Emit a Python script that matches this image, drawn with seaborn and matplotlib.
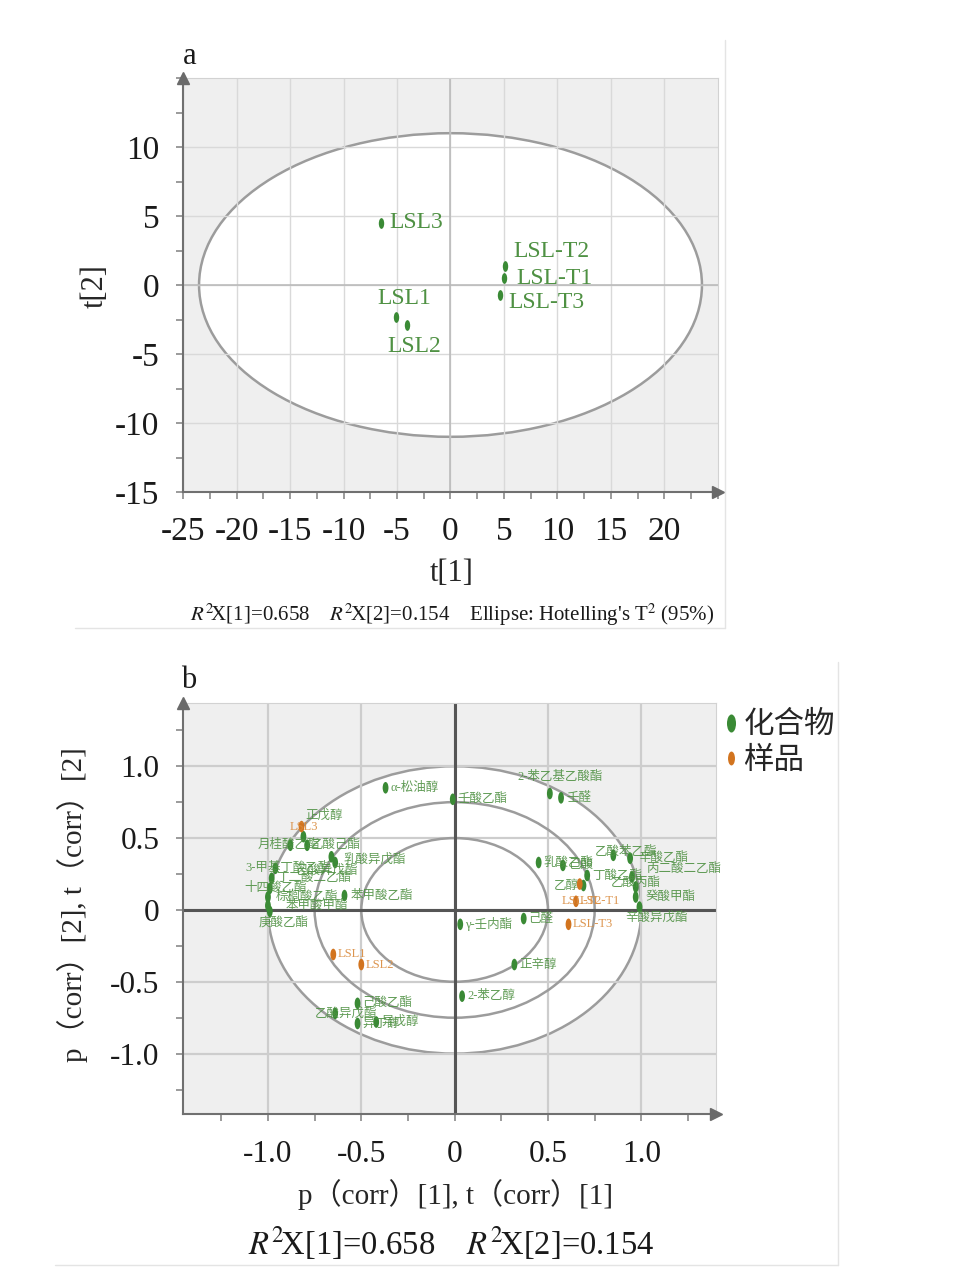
import numpy as np
import pandas as pd
import matplotlib
matplotlib.use("Agg")
import matplotlib.pyplot as plt
import seaborn as sns
from matplotlib.patches import Ellipse
from matplotlib.path import Path
from matplotlib.transforms import Affine2D
from matplotlib.lines import Line2D
from matplotlib.ticker import MultipleLocator

# ---- data: panel a (scores) ----
score_names = ["LSL1", "LSL2", "LSL3", "LSL-T1", "LSL-T2", "LSL-T3"]
score_t1 = [-5.1, -4.1, -6.5, 5.0, 5.1, 4.6]
score_t2 = [-2.3, -2.9, 4.5, 0.5, 1.4, -0.7]
hotelling_a = 23.5   # semi axes of the T2 ellipse
hotelling_b = 11.0
a_xticks = [-25, -20, -15, -10, -5, 0, 5, 10, 15, 20]
a_xlabels = ["-25", "-20", "-15", "-10", "-5", "0", "5", "10", "15", "20"]
a_yticks = [-15, -10, -5, 0, 5, 10]
a_ylabels = ["-15", "-10", "-5", "0", "5", "10"]

# ---- data: panel b (correlation loadings) ----
comp_names = ["α-松油醇", "壬酸乙酯", "2-苯乙基乙酸酯", "壬醛", "正戊醇",
              "月桂酸乙酯", "乙酸己酯", "3-甲基丁酸乙酯", "丁二酸二乙酯", "十四酸乙酯",
              "棕榈酸乙酯", "苯甲酸甲酯", "庚酸乙酯", "乳酸异戊酯", "己酸异戊酯",
              "苯甲酸乙酯", "乳酸乙酯", "己酸", "丁酸乙酯", "乙酸苯乙酯",
              "辛酸乙酯", "丙二酸二乙酯", "乙酸丙酯", "癸酸甲酯", "辛酸异戊酯",
              "乙醇", "γ-壬内酯", "己醛", "正辛醇", "2-苯乙醇",
              "己酸乙酯", "乙酸异戊酯", "异丁醇", "异戊醇"]
comp_p1 = [-0.37, -0.01, 0.51, 0.57, -0.81,
           -0.88, -0.79, -0.96, -0.98, -0.99,
           -1.00, -1.00, -0.99, -0.66, -0.64,
           -0.59, 0.45, 0.58, 0.71, 0.85,
           0.94, 0.95, 0.97, 0.97, 0.99,
           0.69, 0.03, 0.37, 0.32, 0.04,
           -0.52, -0.64, -0.52, -0.42]
comp_p2 = [0.85, 0.77, 0.81, 0.78, 0.51,
           0.45, 0.45, 0.29, 0.22, 0.15,
           0.09, 0.03, -0.01, 0.37, 0.33,
           0.10, 0.33, 0.31, 0.24, 0.38,
           0.36, 0.23, 0.16, 0.09, 0.02,
           0.17, -0.10, -0.06, -0.38, -0.60,
           -0.65, -0.72, -0.79, -0.78]
sample_names = ["LSL1", "LSL2", "LSL3", "LSL-T1", "LSL-T2", "LSL-T3"]
sample_p1 = [-0.65, -0.50, -0.82, 0.65, 0.67, 0.61]
sample_p2 = [-0.31, -0.38, 0.58, 0.06, 0.18, -0.10]
circle_radii = [1.0, 0.75, 0.5]
b_ticks = [-1.0, -0.5, 0, 0.5, 1.0]
b_ticklabels = ["-1.0", "-0.5", "0", "0.5", "1.0"]
legend_labels = ["化合物", "样品"]

# label offsets in pixels (placement only)
a_offsets = [(8, 18, "center"), (8, -21, "center"), (8, 0, "left"),
             (12, 0, "left"), (8, 14, "left"), (9, -8, "left")]
comp_offsets = [(5, 0), (5, 0), (-32, 17), (5, 0), (2, 21),
                (-33, 0), (4, 0), (-30, 0), (5, 0), (-25, 0),
                (8, 0), (18, 0), (-11, -11), (12, -3), (-40, -8),
                (6, 0), (5, 0), (5, 0), (5, 0), (-18, 3),
                (8, 0), (14, 8), (-25, 4), (10, 0), (-14, -11),
                (-30, 0), (5, 0), (5, 0), (5, 0), (5, 0),
                (5, 0), (-20, 0), (5, 0), (5, 0)]
sample_offsets = [(4, 0), (4, 0), (-12, 0), (4, 0), (-18, -17), (4, 0)]

GREEN = "#3a8a35"
GREEN_TXT = "#4f9143"
ORANGE = "#d2741f"
ORANGE_TXT = "#d98a3c"

sns.set_theme(style="white")
plt.rcParams['font.family'] = ['Liberation Serif', 'Noto Sans CJK SC', 'DejaVu Sans']
plt.rcParams['mathtext.fontset'] = 'stix'
plt.rcParams['axes.unicode_minus'] = False

# vertical elliptic marker like SIMCA
ell_marker = Path.unit_circle().transformed(Affine2D().scale(0.5, 1.0))

fig = plt.figure(figsize=(9.62, 12.73), dpi=100)
axa = fig.add_axes([183 / 962, 1 - 492 / 1273, 535 / 962, 414 / 1273])
axb = fig.add_axes([183 / 962, 1 - 1114 / 1273, 533 / 962, 411 / 1273])


def style_axes(ax, grid_color, grid_lw, tick_size, xpad, ypad):
    ax.set_facecolor("#efefef")
    for s in ["top", "right"]:
        ax.spines[s].set_color("#d2d2d2")
        ax.spines[s].set_linewidth(0.8)
    for s in ["left", "bottom"]:
        ax.spines[s].set_color("#707070")
        ax.spines[s].set_linewidth(1.5)
    ax.tick_params(which="both", direction="out", length=5, width=1.1,
                   color="#808080", left=True, bottom=True,
                   labelsize=tick_size, labelcolor="#1a1a1a")
    ax.tick_params(axis="x", pad=xpad)
    ax.tick_params(axis="y", pad=ypad)
    ax.grid(True, which="major", color=grid_color, lw=grid_lw, zorder=0.5)
    ax.set_axisbelow(True)
    ax.plot(0, 1.0, marker="^", ms=8, color="#6a6a6a", transform=ax.transAxes,
            clip_on=False, zorder=5)
    ax.plot(1.0, 0, marker=">", ms=8, color="#6a6a6a", transform=ax.transAxes,
            clip_on=False, zorder=5)


# ---------------- panel a ----------------
style_axes(axa, "#d9d9d9", 1.0, 24, 13, 12)
axa.set_xlim(-25, 25)
axa.set_ylim(-15, 15)
axa.set_xticks(a_xticks, a_xlabels)
axa.set_yticks(a_yticks, a_ylabels)
axa.xaxis.set_minor_locator(MultipleLocator(2.5))
axa.yaxis.set_minor_locator(MultipleLocator(2.5))
axa.add_patch(Ellipse((0, 0), 2 * hotelling_a, 2 * hotelling_b, facecolor="white",
                      edgecolor="#9c9c9c", lw=1.8, zorder=0.2))
axa.axhline(0, color="#b8b8b8", lw=1.1, zorder=1)
axa.axvline(0, color="#b8b8b8", lw=1.1, zorder=1)

df_a = pd.DataFrame({"t1": score_t1, "t2": score_t2, "name": score_names})
sns.scatterplot(data=df_a, x="t1", y="t2", color=GREEN, marker=ell_marker, s=60,
                linewidth=0, ax=axa, zorder=3, legend=False)
for (nm, x, y), (dx, dy, ha) in zip(df_a[["name", "t1", "t2"]].values, a_offsets):
    axa.annotate(nm, (x, y), xytext=(dx, dy), textcoords="offset pixels",
                 ha=ha, va="center", fontsize=17, color=GREEN_TXT, zorder=4)

axa.set_xlabel("t[1]", fontsize=22)
axa.set_ylabel("t[2]", fontsize=22)
axa.xaxis.set_label_coords(0.503, -0.196)
axa.xaxis.label.set_va("center")
axa.yaxis.set_label_coords(-0.164, 0.498)
axa.yaxis.label.set_va("center")

fig.text(452 / 962, 1 - 615 / 1273,
         r"$R^{2}\!$X[1]=0.658    $R^{2}\!$X[2]=0.154    Ellipse: Hotelling's T$^{2}$ (95%)",
         ha="center", va="center", fontsize=15, color="#1a1a1a")
fig.text(183 / 962, 1 - 57 / 1273, "a", fontsize=22, ha="left", va="center",
         color="#1a1a1a")

# ---------------- panel b ----------------
style_axes(axb, "#cdcdcd", 1.6, 22.5, 14, 12)
axb.set_xlim(-1.455, 1.40)
axb.set_ylim(-1.42, 1.44)
axb.set_xticks(b_ticks, b_ticklabels)
axb.set_yticks(b_ticks, b_ticklabels)
axb.xaxis.set_minor_locator(MultipleLocator(0.25))
axb.yaxis.set_minor_locator(MultipleLocator(0.25))
for i, r in enumerate(circle_radii):
    axb.add_patch(Ellipse((0, 0), 2 * r, 2 * r,
                          facecolor="white" if i == 0 else "none",
                          edgecolor="#9c9c9c", lw=1.8, zorder=0.2 if i == 0 else 1))
axb.axhline(0, color="#555555", lw=2.2, zorder=1.5)
axb.axvline(0, color="#555555", lw=2.2, zorder=1.5)

df_b = pd.concat([
    pd.DataFrame({"p1": comp_p1, "p2": comp_p2, "name": comp_names,
                  "type": legend_labels[0]}),
    pd.DataFrame({"p1": sample_p1, "p2": sample_p2, "name": sample_names,
                  "type": legend_labels[1]}),
], ignore_index=True)
sns.scatterplot(data=df_b, x="p1", y="p2", hue="type",
                palette={legend_labels[0]: GREEN, legend_labels[1]: ORANGE},
                marker=ell_marker, s=70, linewidth=0, ax=axb, zorder=3, legend=False)

offsets_b = comp_offsets + sample_offsets
for (nm, x, y, kind), (dx, dy) in zip(df_b[["name", "p1", "p2", "type"]].values, offsets_b):
    col = GREEN_TXT if kind == legend_labels[0] else ORANGE_TXT
    axb.annotate(nm, (x, y), xytext=(dx, dy), textcoords="offset pixels",
                 ha="left", va="center", fontsize=9, color=col, alpha=0.9, zorder=4)

axb.set_xlabel("p（corr）[1], t（corr）[1]", fontsize=21)
axb.set_ylabel("p（corr）[2], t（corr）[2]", fontsize=21)
axb.xaxis.set_label_coords(0.512, -0.197)
axb.xaxis.label.set_va("center")
axb.yaxis.set_label_coords(-0.208, 0.509)
axb.yaxis.label.set_va("center")

handles = [Line2D([], [], ls="none", marker=ell_marker, ms=13, color=GREEN, mew=0),
           Line2D([], [], ls="none", marker=ell_marker, ms=10, color=ORANGE, mew=0)]
fig.legend(handles, legend_labels, loc="upper left",
           bbox_to_anchor=(713 / 962, 1 - 697 / 1273), frameon=False,
           prop={"family": ["Noto Sans CJK SC"], "size": 22},
           handlelength=0.4, handletextpad=0.2, labelspacing=0.15, borderaxespad=0)

fig.text(451 / 962, 1 - 1243 / 1273, r"$R^{2}\!$X[1]=0.658    $R^{2}\!$X[2]=0.154",
         ha="center", va="center", fontsize=23.5, color="#1a1a1a")
fig.text(181 / 962, 1 - 680 / 1273, "b", fontsize=22, ha="left", va="center",
         color="#1a1a1a")

# faint panel frames from the scanned figure
for xs, ys in [((725, 725), (40, 628)), ((75, 725), (628, 628)),
               ((838, 838), (662, 1265)), ((55, 838), (1265, 1265))]:
    fig.add_artist(Line2D([x / 962 for x in xs], [1 - y / 1273 for y in ys],
                          color="#e4e4e4", lw=1.0))

fig.savefig("out.png", dpi=100)
